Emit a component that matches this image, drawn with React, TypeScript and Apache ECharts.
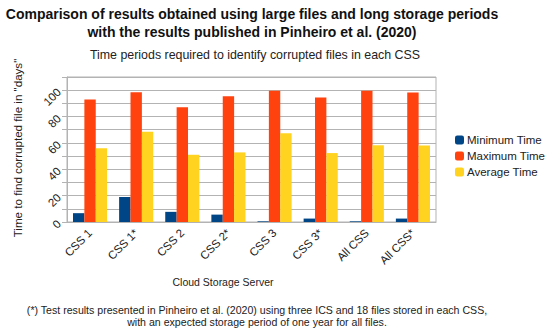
import React, { useEffect, useRef } from "react";
import * as echarts from "echarts";

const categories = ["CSS 1", "CSS 1*", "CSS 2", "CSS 2*", "CSS 3", "CSS 3*", "All CSS", "All CSS*"];
const minTime = [6.7, 19, 7.7, 5.6, 0.5, 2.6, 0.5, 2.6];
const maxTime = [93, 98.5, 87, 95.4, 99.5, 94.4, 99.5, 98.2];
const avgTime = [56, 68.5, 51, 52.8, 67.4, 52.3, 58.2, 58];
const seriesNames = ["Minimum Time", "Maximum Time", "Average Time"];
const colors = ["#004586", "#ff420e", "#ffd320"];

export default function App() {
  const ref = useRef<HTMLDivElement>(null);
  useEffect(() => {
    const chart = echarts.init(ref.current!, null, { renderer: "svg" });
    const font = "'Liberation Sans', Arial, sans-serif";
    chart.setOption({
      animation: false,
      textStyle: { fontFamily: font },
      grid: { left: 67, right: 114, top: 77, bottom: 111, show: true, borderColor: "#b3b3b3", borderWidth: 1 },
      legend: {
        orient: "vertical",
        left: 450,
        top: 129,
        itemWidth: 9,
        itemHeight: 9,
        itemGap: 4,
        textStyle: { fontSize: 11.5, color: "#222", fontFamily: font, padding: [0, 0, 0, -2], lineHeight: 11 },
        data: seriesNames,
      },
      xAxis: {
        type: "category",
        data: categories,
        axisLine: { lineStyle: { color: "#b3b3b3" } },
        axisTick: { length: 5, lineStyle: { color: "#b3b3b3" } },
        axisLabel: { interval: 0, rotate: 45, fontSize: 11.5, color: "#222", margin: 9 },
      },
      yAxis: {
        type: "value",
        min: 0,
        max: 110,
        interval: 10,
        axisLine: { show: true, lineStyle: { color: "#b3b3b3" } },
        axisTick: { show: true, length: 5, lineStyle: { color: "#b3b3b3" } },
        splitLine: { lineStyle: { color: "#b3b3b3" } },
        axisLabel: {
          rotate: 45,
          fontSize: 11.5,
          color: "#222",
          margin: 8,
          formatter: (v: number) => (v % 20 === 0 && v <= 100 ? String(v) : ""),
        },
      },
      series: [minTime, maxTime, avgTime].map((d, i) => ({
        type: "bar",
        name: seriesNames[i],
        data: d,
        barGap: "0%",
        barCategoryGap: "26%",
        itemStyle: { color: colors[i] },
      })),
      graphic: [
        {
          type: "text",
          x: 252,
          y: 5,
          style: {
            text: "Comparison of results obtained using large files and long storage periods\nwith the results published in Pinheiro et al. (2020)",
            font: `bold 14px ${font}`,
            fill: "#111",
            align: "center",
            lineHeight: 18,
          },
        },
        {
          type: "text",
          x: 255,
          y: 49,
          style: { text: "Time periods required to identify corrupted files in each CSS", font: `12.4px ${font}`, fill: "#222", align: "center" },
        },
        {
          type: "text",
          x: 11,
          y: 148,
          rotation: Math.PI / 2,
          style: { text: 'Time to find corrupted file in "days"', font: `11.6px ${font}`, fill: "#222", align: "center", verticalAlign: "top" },
        },
        {
          type: "text",
          x: 223,
          y: 276,
          style: { text: "Cloud Storage Server", font: `10.5px ${font}`, fill: "#222", align: "center" },
        },
        {
          type: "text",
          x: 257,
          y: 304,
          style: {
            text: "(*) Test results presented in Pinheiro et al. (2020) using three ICS and 18 files stored in each CSS,\nwith an expected storage period of one year for all files.",
            font: `10.6px ${font}`,
            fill: "#222",
            align: "center",
            lineHeight: 12,
          },
        },
      ],
    });
    return () => chart.dispose();
  }, []);
  return <div ref={ref} style={{ width: 550, height: 333, position: "absolute", left: 0, top: 0 }} />;
}
